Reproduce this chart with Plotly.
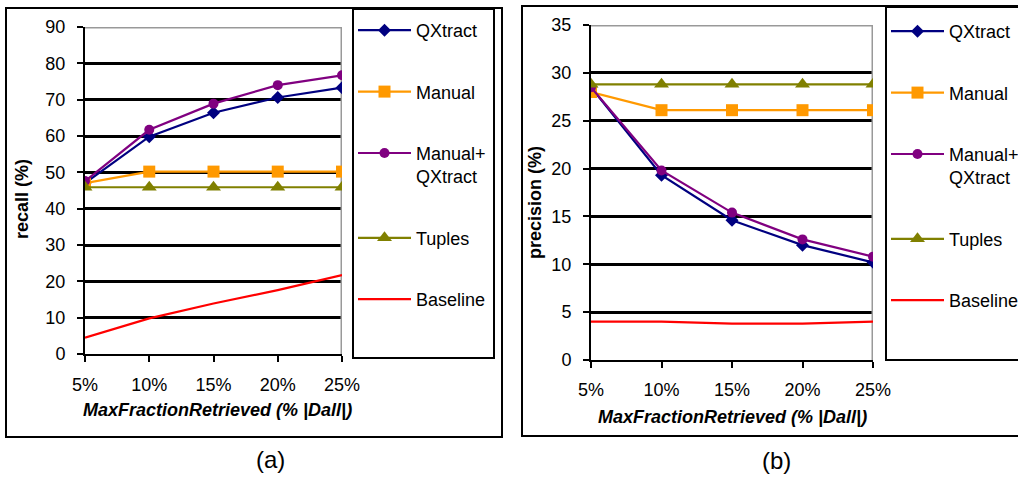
import plotly.graph_objects as go

# ---------------- data ----------------
x_pct = [5, 10, 15, 20, 25]
x_labels = ["5%", "10%", "15%", "20%", "25%"]
series_names = ["QXtract", "Manual", "Manual+<br>QXtract", "Tuples", "Baseline"]

recall_qxtract = [47.0, 59.8, 66.4, 70.6, 73.3]
recall_manual = [47.0, 50.2, 50.2, 50.2, 50.2]
recall_manual_qx = [47.6, 61.7, 68.9, 74.0, 76.7]
recall_tuples = [45.9, 45.9, 45.9, 45.9, 45.9]
recall_baseline = [4.5, 9.8, 13.9, 17.6, 21.7]

prec_qxtract = [28.5, 19.3, 14.6, 12.0, 10.2]
prec_manual = [28.0, 26.1, 26.1, 26.1, 26.1]
prec_manual_qx = [28.5, 19.8, 15.4, 12.6, 10.8]
prec_tuples = [28.8, 28.8, 28.8, 28.8, 28.8]
prec_baseline = [4.0, 4.0, 3.8, 3.8, 4.0]

recall_ticks = [0, 10, 20, 30, 40, 50, 60, 70, 80, 90]
prec_ticks = [0, 5, 10, 15, 20, 25, 30, 35]

# ---------------- styles ----------------
colors = ["#000080", "#FF9900", "#800080", "#808000", "#FF0000"]
symbols = ["diamond", "square", "circle", "triangle-up", None]
msizes = [10, 12, 10, 13, 0]
FONT = "Arial, 'Liberation Sans', sans-serif"
W, H = 1018, 477

def px(v):
    return v / W

def py(v):
    return 1 - v / H

fig = go.Figure()

recall_series = [recall_qxtract, recall_manual, recall_manual_qx, recall_tuples, recall_baseline]
prec_series = [prec_qxtract, prec_manual, prec_manual_qx, prec_tuples, prec_baseline]

for panel, (series, xa, ya, lg) in enumerate([
        (recall_series, "x", "y", "legend"),
        (prec_series, "x2", "y2", "legend2")]):
    for i, (name, vals) in enumerate(zip(series_names, series)):
        mode = "lines+markers" if symbols[i] else "lines"
        fig.add_trace(go.Scatter(
            x=x_pct, y=vals, name=name, mode=mode,
            xaxis=xa, yaxis=ya, legend=lg,
            legendgroup=f"{panel}-{i}",
            line=dict(color=colors[i], width=2.2),
            marker=dict(symbol=symbols[i] or "circle", size=msizes[i], color=colors[i],
                        line=dict(width=0)),
        ))

axis_common = dict(
    showline=True, linecolor="black", linewidth=2,
    ticks="outside", ticklen=6, tickwidth=2, tickcolor="black",
    tickfont=dict(family=FONT, size=18, color="black"),
    layer="below traces", zeroline=False, automargin=False,
)

legend_common = dict(
    xanchor="left", yanchor="top",
    bgcolor="rgba(0,0,0,0)", borderwidth=0,
    font=dict(family=FONT, size=18, color="black"),
    tracegroupgap=35, valign="top", itemwidth=53, traceorder="grouped",
)

fig.update_layout(
    width=W, height=H,
    margin=dict(l=0, r=0, t=0, b=0, pad=0, autoexpand=False),
    paper_bgcolor="white", plot_bgcolor="white",
    font=dict(family=FONT, color="black"),
    xaxis=dict(domain=[px(85), px(342)], anchor="y", range=[5, 25],
               tickvals=x_pct, ticktext=x_labels, showgrid=False,
               ticklabelstandoff=7, **axis_common),
    yaxis=dict(domain=[py(354), py(27)], anchor="x", range=[0, 90],
               tickvals=recall_ticks, showgrid=True, gridcolor="black", gridwidth=2.5,
               ticklabelstandoff=8, **axis_common),
    xaxis2=dict(domain=[px(591), px(873)], anchor="y2", range=[5, 25],
                tickvals=x_pct, ticktext=x_labels, showgrid=False,
                ticklabelstandoff=6, **axis_common),
    yaxis2=dict(domain=[py(360), py(25)], anchor="x2", range=[0, 35],
                tickvals=prec_ticks, showgrid=True, gridcolor="black", gridwidth=2.5,
                ticklabelstandoff=8, **axis_common),
    legend=dict(x=px(353), y=py(12), **legend_common),
    legend2=dict(x=px(886), y=py(13), **legend_common),
    showlegend=True,
)

shapes = []
# gray top/right plot borders (above grid, below traces)
for xr, yr, yt in [("x", "y", recall_ticks[-1]), ("x2", "y2", prec_ticks[-1])]:
    shapes.append(dict(type="line", xref=xr, yref=yr, x0=x_pct[0], x1=x_pct[-1], y0=yt, y1=yt,
                       line=dict(color="#999999", width=3), layer="between"))
    shapes.append(dict(type="line", xref=xr, yref=yr, x0=x_pct[-1], x1=x_pct[-1], y0=0, y1=yt,
                       line=dict(color="#999999", width=3), layer="between"))
# outer frames and legend boxes
for (x0, y0, x1, y1) in [(6, 8, 502, 437), (522, 6, 1030, 436),
                         (353, 9, 494, 358), (886, 7, 1030, 360)]:
    shapes.append(dict(type="rect", xref="paper", yref="paper",
                       x0=px(x0), x1=px(x1), y0=py(y0), y1=py(y1),
                       line=dict(color="black", width=2), fillcolor="rgba(0,0,0,0)",
                       layer="above"))
fig.update_layout(shapes=shapes)

annotations = [
    dict(text="<b>recall (%)</b>", x=px(22), y=py(199), textangle=-90, font_size=18),
    dict(text="<b>precision (%)</b>", x=px(535), y=py(203), textangle=-90, font_size=18),
    dict(text="<b><i>MaxFractionRetrieved (% |Dall|)</i></b>", x=px(217), y=py(410), font_size=18),
    dict(text="<b><i>MaxFractionRetrieved (% |Dall|)</i></b>", x=px(732), y=py(417), font_size=18),
    dict(text="(a)", x=px(270), y=py(459), font_size=24),
    dict(text="(b)", x=px(776), y=py(460), font_size=24),
]
for a in annotations:
    a.update(xref="paper", yref="paper", showarrow=False, xanchor="center", yanchor="middle")
    a["font"] = dict(family=FONT, size=a.pop("font_size"), color="black")
fig.update_layout(annotations=annotations)

fig.write_html("out.html", config={"displayModeBar": False},
               post_script="document.body.style.margin='0';")
